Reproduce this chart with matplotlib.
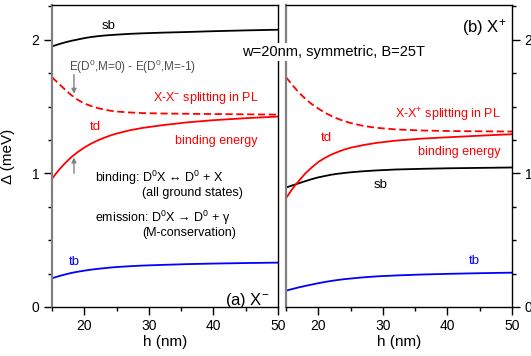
import numpy as np
import matplotlib
matplotlib.use("Agg")
import matplotlib.pyplot as plt
from matplotlib.ticker import MultipleLocator

plt.rcParams['font.family'] = ['Liberation Sans', 'DejaVu Sans']
plt.rcParams['mathtext.fontset'] = 'custom'
plt.rcParams['mathtext.rm'] = 'Liberation Sans'
plt.rcParams['mathtext.it'] = 'Liberation Sans:italic'

# well width h (nm)
h = [15, 16, 17, 18, 19, 20, 21, 22, 23, 24, 25, 27, 29, 32, 36, 40, 45, 50]

# (a) X-
sb_a = [1.95, 1.966, 1.98, 1.992, 2.002, 2.012, 2.02, 2.026, 2.031, 2.035, 2.038,
        2.044, 2.048, 2.053, 2.058, 2.064, 2.07, 2.075]
split_a = [1.72, 1.673, 1.628, 1.585, 1.55, 1.523, 1.505, 1.49, 1.478, 1.469, 1.463,
           1.456, 1.451, 1.448, 1.446, 1.444, 1.442, 1.44]
td_a = [0.96, 1.022, 1.075, 1.122, 1.16, 1.193, 1.221, 1.245, 1.265, 1.283, 1.298,
        1.322, 1.34, 1.36, 1.382, 1.398, 1.413, 1.425]
tb_a = [0.215, 0.23, 0.243, 0.255, 0.264, 0.272, 0.279, 0.285, 0.29, 0.295, 0.299,
        0.305, 0.31, 0.315, 0.321, 0.325, 0.329, 0.332]

# (b) X+
sb_b = [0.894, 0.91, 0.926, 0.942, 0.957, 0.97, 0.98, 0.99, 0.997, 1.003, 1.008,
        1.016, 1.022, 1.029, 1.034, 1.038, 1.041, 1.044]
split_b = [1.72, 1.66, 1.605, 1.558, 1.518, 1.485, 1.455, 1.43, 1.409, 1.391, 1.377,
           1.355, 1.341, 1.329, 1.321, 1.317, 1.315, 1.313]
td_b = [0.814, 0.885, 0.945, 1.0, 1.045, 1.085, 1.115, 1.14, 1.16, 1.178, 1.192,
        1.212, 1.228, 1.245, 1.26, 1.27, 1.282, 1.293]
tb_b = [0.122, 0.135, 0.147, 0.158, 0.168, 0.178, 0.187, 0.195, 0.202, 0.208, 0.213,
        0.222, 0.229, 0.236, 0.243, 0.248, 0.253, 0.257]

red = '#ff0000'
blue = '#0000ff'
gray = '#808080'

fig = plt.figure(figsize=(5.31, 3.56), dpi=100)
ax1 = fig.add_axes([52/531, 49/356, 226/531, 302/356])
ax2 = fig.add_axes([286/531, 49/356, 226/531, 302/356])
ax1.set_zorder(3)  # so the header text can run over the right panel

for ax in (ax1, ax2):
    ax.set_xlim(15, 50)
    ax.set_ylim(0, 2.26)
    ax.xaxis.set_major_locator(MultipleLocator(10))
    ax.xaxis.set_minor_locator(MultipleLocator(5))
    ax.yaxis.set_major_locator(MultipleLocator(1))
    ax.yaxis.set_minor_locator(MultipleLocator(0.25))
    ax.tick_params(which='both', direction='out', labelsize=10, width=1)
    ax.tick_params(which='major', length=5.5)
    ax.tick_params(which='minor', length=3)
    ax.spines['left'].set_color(gray)
    ax.spines['left'].set_linewidth(1.6)
    for s in ('right', 'top', 'bottom'):
        ax.spines[s].set_linewidth(1.0)
    ax.set_xlabel('h (nm)', fontsize=11, labelpad=1)

ax1.tick_params(axis='y', which='both', left=True, right=False)
ax2.tick_params(axis='y', which='both', left=False, right=True, labelleft=False, labelright=True)
ax1.set_ylabel('Δ (meV)', fontsize=11)
ax1.yaxis.set_label_coords(-0.165, 0.5)

lw = 1.3
dash = (0, (4, 2))
ax1.plot(h, sb_a, color='black', lw=lw)
ax1.plot(h, split_a, color=red, lw=lw, ls=dash)
ax1.plot(h, td_a, color=red, lw=lw)
ax1.plot(h, tb_a, color=blue, lw=lw)

ax2.plot(h, sb_b, color='black', lw=lw)
ax2.plot(h, split_b, color=red, lw=lw, ls=dash)
ax2.plot(h, td_b, color=red, lw=lw)
ax2.plot(h, tb_b, color=blue, lw=lw)

fs = 9
ax1.text(23.7, 2.10, 'sb', fontsize=fs + 0.5, ha='center', va='center')
ax1.text(17.6, 1.80, 'E(D$^0$,M=0) - E(D$^0$,M=-1)', fontsize=8.5, color='#505050', va='center')
ax1.annotate('', xy=(18.4, 1.575), xytext=(18.4, 1.76),
             arrowprops=dict(arrowstyle='-|>', color=gray, lw=1, mutation_scale=7))
ax1.annotate('', xy=(18.4, 1.14), xytext=(18.4, 0.98),
             arrowprops=dict(arrowstyle='-|>', color=gray, lw=1, mutation_scale=7))
ax1.text(30.6, 1.565, 'X-X$^{-}$ splitting in PL', fontsize=fs, color=red, va='center')
ax1.text(21.7, 1.35, 'td', fontsize=fs + 0.5, color=red, ha='center', va='center')
ax1.text(34.05, 1.245, 'binding energy', fontsize=fs, color=red, va='center')
ax1.text(21.66, 0.966, 'binding: D$^0$X ↔ D$^0$ + X', fontsize=fs, va='center')
ax1.text(28.9, 0.854, '(all ground states)', fontsize=fs, va='center')
ax1.text(21.66, 0.667, 'emission: D$^0$X → D$^0$ + γ', fontsize=fs, va='center')
ax1.text(28.9, 0.554, '(M-conservation)', fontsize=fs, va='center')
ax1.text(18.4, 0.337, 'tb', fontsize=fs + 0.5, color=blue, ha='center', va='center')
ax1.text(48.6, 0.05, '(a) X$^{-}$', fontsize=12, ha='right', va='center')
ax1.text(44.4, 1.91, 'w=20nm, symmetric, B=25T', fontsize=10.5, va='center', zorder=10,
         clip_on=False, bbox=dict(facecolor='white', edgecolor='none', pad=1.5))

ax2.text(42.26, 2.09, '(b) X$^{+}$', fontsize=12, va='center')
ax2.text(31.9, 1.438, 'X-X$^{+}$ splitting in PL', fontsize=fs, color=red, va='center')
ax2.text(21.3, 1.266, 'td', fontsize=fs + 0.5, color=red, ha='center', va='center')
ax2.text(35.4, 1.16, 'binding energy', fontsize=fs, color=red, va='center')
ax2.text(29.6, 0.914, 'sb', fontsize=fs + 0.5, ha='center', va='center')
ax2.text(44.2, 0.345, 'tb', fontsize=fs + 0.5, color=blue, ha='center', va='center')

fig.savefig('out.png', dpi=100)
